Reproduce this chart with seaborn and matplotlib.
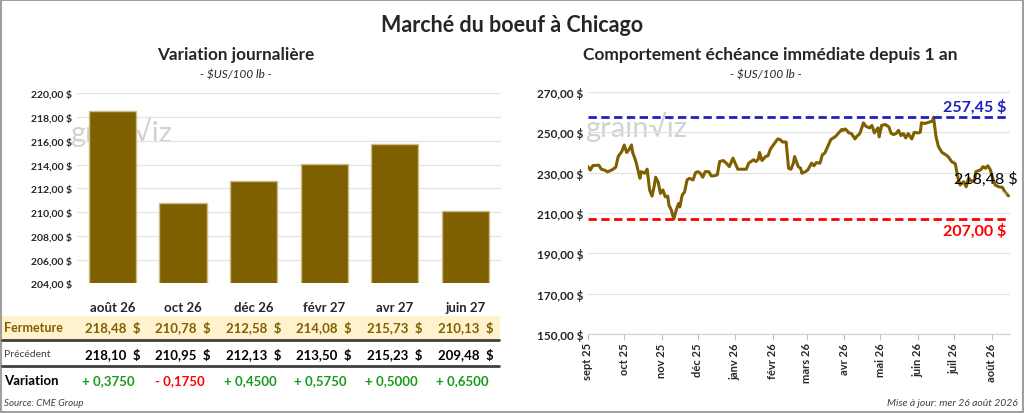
import numpy as np
import pandas as pd
import seaborn as sns
import matplotlib.pyplot as plt
from matplotlib import transforms
from matplotlib.patches import Rectangle
from matplotlib.lines import Line2D

# tableau des échéances
echeances = ["août 26", "oct 26", "déc 26", "févr 27", "avr 27", "juin 27"]
fermeture = [218.48, 210.78, 212.58, 214.08, 215.73, 210.13]
precedent = [218.10, 210.95, 212.13, 213.50, 215.23, 209.48]
variation = [0.3750, -0.1750, 0.4500, 0.5750, 0.5000, 0.6500]

# échéance immédiate, jours depuis le 1er sept 2025
debut = "2025-09-01"
jours = [0, 2, 4, 9, 11, 14, 16, 20, 23, 25, 28, 30, 32, 34, 36, 37, 39, 40, 43, 44,
         47, 49, 51, 53, 55, 56, 58, 60, 62, 64, 66, 67, 69, 71, 73, 75, 76, 78, 80, 82,
         84, 87, 89, 91, 93, 95, 97, 100, 102, 104, 107, 109, 112, 115, 117, 120, 124, 127, 131, 133,
         137, 139, 141, 142, 144, 147, 149, 151, 153, 157, 159, 161, 164, 166, 168, 170, 171, 174, 176, 177,
         180, 182, 185, 187, 189, 192, 194, 196, 199, 201, 205, 207, 210, 211, 213, 216, 218, 221, 222, 225,
         228, 230, 233, 235, 237, 240, 241, 243, 246, 249, 251, 253, 255, 257, 259, 261, 263, 265, 268, 270,
         273, 275, 276, 279, 282, 285, 286, 288, 290, 293, 296, 298, 301, 304, 306, 308, 311, 313, 315, 318,
         320, 321, 325, 327, 329, 331, 333, 335, 337, 340, 343, 345, 348]
prix = [233.0, 231.3, 233.5, 233.7, 231.7, 231.2, 230.4, 231.4, 232.7, 238.0, 240.5, 243.7, 240.0, 241.4, 243.7, 240.0, 236.7, 234.7, 227.2, 230.5,
        229.7, 231.7, 221.4, 218.4, 223.9, 227.7, 225.5, 219.7, 221.4, 218.0, 218.4, 213.9, 211.4, 207.0, 211.4, 214.7, 213.0, 218.9, 220.5, 226.4,
        227.2, 226.4, 230.0, 230.5, 229.7, 227.7, 230.5, 230.5, 228.4, 228.4, 228.9, 235.5, 236.0, 234.4, 233.0, 237.2, 231.7, 231.7, 231.7, 234.7,
        236.4, 235.5, 236.7, 240.0, 236.0, 238.0, 238.4, 241.7, 243.4, 246.7, 246.4, 245.2, 245.2, 232.2, 231.7, 234.7, 238.0, 233.0, 232.2, 229.7,
        230.5, 231.4, 234.7, 233.4, 235.0, 234.7, 238.9, 239.7, 243.8, 246.4, 248.0, 249.4, 251.4, 251.0, 251.7, 249.7, 249.4, 246.7, 247.7, 249.4,
        254.7, 253.0, 252.2, 253.4, 249.7, 252.2, 247.7, 253.4, 253.9, 252.7, 249.4, 248.9, 249.4, 251.0, 248.4, 249.4, 247.2, 249.4, 246.7, 250.0,
        249.7, 250.0, 254.7, 254.4, 255.0, 255.5, 257.45, 248.0, 243.0, 240.0, 238.9, 238.0, 235.5, 234.4, 228.0, 223.9, 225.5, 223.0, 227.2, 225.5,
        226.4, 230.5, 231.4, 233.0, 232.2, 233.4, 231.4, 227.2, 223.9, 223.0, 222.7, 220.5, 218.48]
mois = ["sept 25", "oct 25", "nov 25", "déc 25", "janv 26", "févr 26", "mars 26",
        "avr 26", "mai 26", "juin 26", "juil 26", "août 26"]

OR = "#7F6000"

def fr(v, n=2):
    return f"{v:.{n}f}".replace(".", ",")

sns.set_style("white")
plt.rcParams['font.family'] = ['Lato', 'DejaVu Sans']

fig = plt.figure(figsize=(10.24, 4.14), dpi=100)
ax1 = fig.add_axes([0.0752, 0.3133, 0.4138, 0.4589])
ax2 = fig.add_axes([0.5742, 0.1908, 0.4118, 0.5846])
ax1.patch.set_alpha(0)
ax2.patch.set_alpha(0)

# ---- variation journalière
df = pd.DataFrame({"echeance": echeances, "fermeture": fermeture})
sns.barplot(data=df, x="echeance", y="fermeture", color=OR, saturation=1,
            width=0.67, edgecolor="#CDBB8A", linewidth=1, ax=ax1)
ax1.set_ylim(204, 220)
yt = np.arange(204, 221, 2)
ax1.set_yticks(yt)
ax1.set_yticklabels([fr(v) + " $" for v in yt], fontsize=7.5, weight="bold")
ax1.grid(axis="y", color="#E3E3E3", lw=0.9)
ax1.set_axisbelow(True)
sns.despine(ax=ax1, left=True, bottom=True)
ax1.tick_params(axis="both", length=0)
ax1.tick_params(axis="x", pad=13, labelsize=9.5)
for t in ax1.get_xticklabels():
    t.set_fontweight("bold")
ax1.set_xlabel("")
ax1.set_ylabel("")

tr = transforms.blended_transform_factory(ax1.transData, fig.transFigure)
for i in range(len(echeances)):
    ax1.text(i, 1 - 328 / 414, fr(fermeture[i]) + "  $", transform=tr, ha="center", va="center",
             fontsize=9.5, weight="bold", color=OR)
    ax1.text(i, 1 - 355 / 414, fr(precedent[i]) + "  $", transform=tr, ha="center", va="center",
             fontsize=9.5, weight="bold", color="black")
    v = variation[i]
    ax1.text(i - 0.05, 1 - 381 / 414, ("+ " if v >= 0 else "- ") + fr(abs(v), 4), transform=tr,
             ha="center", va="center", fontsize=9.5, weight="bold",
             color="#1A9A1A" if v >= 0 else "#FF0000")

fig.add_artist(Rectangle((0.002, 0.176), 0.485, 0.058, transform=fig.transFigure,
                         color="#FFF2CC", zorder=-3))
for y in [1 - 341 / 414, 1 - 367 / 414]:
    fig.add_artist(Line2D([0.002, 0.487], [y, y], transform=fig.transFigure, color="#404040", lw=2))
fig.text(0.004, 1 - 328 / 414, "Fermeture", fontsize=9, weight="bold", color=OR, va="center")
fig.text(0.004, 1 - 355 / 414, "Précédent", fontsize=7.5, color="#404040", va="center")
fig.text(0.004, 1 - 381 / 414, "Variation", fontsize=9.5, weight="bold", color="black", va="center")
fig.text(0.004, 1 - 404 / 414, "Source: CME Group", fontsize=7, style="italic", color="#404040", va="center")

# ---- échéance immédiate
dates = pd.Timestamp(debut) + pd.to_timedelta(jours, unit="D")
sns.lineplot(x=dates, y=prix, ax=ax2, color=OR, lw=2.2)
ax2.set_xlim(dates[0], dates[-1] + pd.Timedelta(days=1))
ax2.set_ylim(150, 270)
yt2 = np.arange(150, 271, 20)
ax2.set_yticks(yt2)
ax2.set_yticklabels([fr(v) + " $" for v in yt2], fontsize=8.5, weight="bold")
ax2.grid(axis="y", color="#E3E3E3", lw=0.9)
ax2.set_axisbelow(True)
sns.despine(ax=ax2, left=True)
ax2.spines["bottom"].set_color("#D0D0D0")
ticks = pd.date_range(debut, periods=len(mois), freq="MS")
ax2.set_xticks(ticks)
ax2.set_xticklabels(mois, rotation=90, fontsize=8, weight="bold")
ax2.tick_params(axis="x", bottom=True, length=4, color="#BFBFBF", pad=2)
ax2.tick_params(axis="y", length=0)
ax2.set_xlabel("")
ax2.set_ylabel("")

haut, bas = max(prix), min(prix)
ax2.axhline(haut, color="#2020C0", lw=2, dashes=(3, 1.6))
ax2.axhline(bas, color="#FF0000", lw=2, dashes=(3, 1.6))
tr2 = transforms.blended_transform_factory(ax2.transAxes, ax2.transData)
ax2.text(0.993, haut + 1.5, fr(haut) + " $", transform=tr2, ha="right", va="bottom",
         fontsize=11.5, weight="bold", color="#2020C0")
ax2.text(0.993, bas - 2, fr(bas) + " $", transform=tr2, ha="right", va="top",
         fontsize=11.5, weight="bold", color="#FF0000")
ax2.annotate(fr(prix[-1]) + " $", xy=(dates[-1], prix[-1]), xytext=(1.02, prix[-1] + 8.5),
             textcoords=tr2, ha="right", va="center", fontsize=11.5, color="black",
             arrowprops=dict(arrowstyle="-", color="#BFBFBF", lw=0.8))

# ---- titres et filigranes
fig.text(0.5, 1 - 25 / 414, "Marché du boeuf à Chicago", ha="center", va="center", fontsize=15.5, weight="bold")
fig.text(236 / 1024, 1 - 55 / 414, "Variation journalière", ha="center", va="center", fontsize=12.3, weight="bold")
fig.text(236 / 1024, 1 - 75 / 414, "- $US/100 lb -", ha="center", va="center", fontsize=8.5, style="italic")
fig.text(770 / 1024, 1 - 55 / 414, "Comportement échéance immédiate depuis 1 an", ha="center", va="center",
         fontsize=12.5, weight="bold")
fig.text(766 / 1024, 1 - 75 / 414, "- $US/100 lb -", ha="center", va="center", fontsize=8.5, style="italic")
for x, y in [(70 / 1024, 1 - 132 / 414), (585 / 1024, 1 - 127 / 414)]:
    fig.text(x, y, "grain√iz", fontsize=21, color="#D2D2D2", va="center", zorder=-1)
fig.text(0.994, 1 - 404 / 414, "Mise à jour: mer 26 août 2026", ha="right", va="center",
         fontsize=7.5, style="italic", color="#404040")
fig.add_artist(Rectangle((0.001, 0.002), 0.998, 0.996, fill=False, ec="#A0A0A0", lw=1.5,
                         transform=fig.transFigure))

fig.savefig("out.png", dpi=100)
